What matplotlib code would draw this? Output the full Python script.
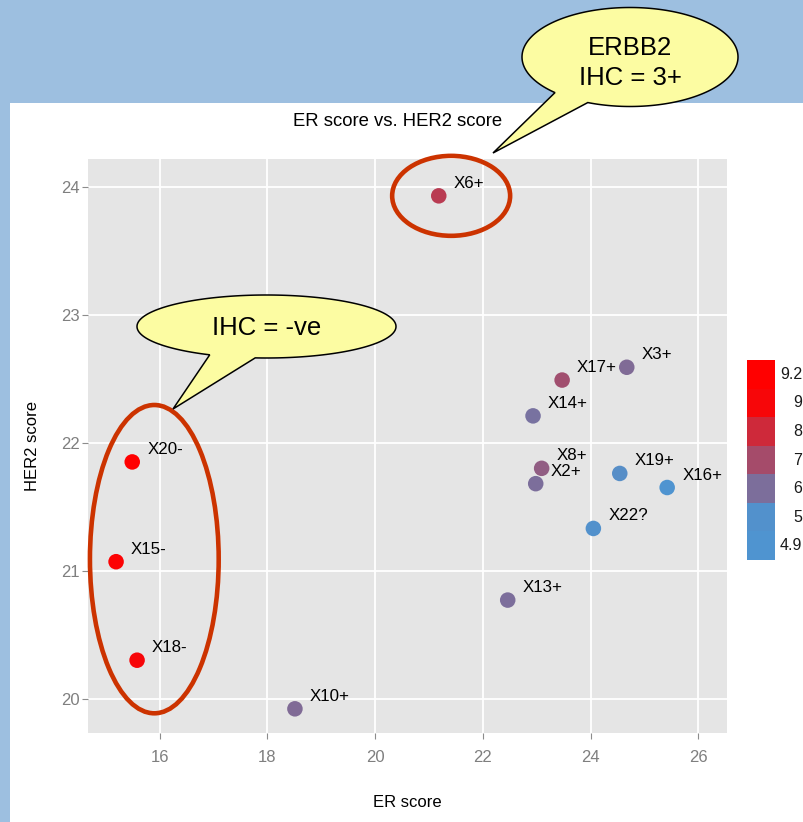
import numpy as np
import matplotlib
matplotlib.use("Agg")
import matplotlib.pyplot as plt
from matplotlib.colors import LinearSegmentedColormap, Normalize
from matplotlib.patches import Ellipse, Polygon, Rectangle

# ---- data ---------------------------------------------------------------
samples = ["X6+", "X3+", "X17+", "X14+", "X8+", "X2+", "X19+", "X16+",
           "X22?", "X13+", "X10+", "X20-", "X15-", "X18-"]
er_score = [21.18, 24.67, 23.47, 22.93, 23.09, 22.98, 24.54, 25.42,
            24.05, 22.46, 18.51, 15.49, 15.19, 15.58]
her2_score = [23.93, 22.59, 22.49, 22.21, 21.80, 21.68, 21.76, 21.65,
              21.33, 20.77, 19.92, 21.85, 21.07, 20.30]
erbb2_level = [7.5, 6.1, 6.9, 5.9, 6.5, 6.0, 5.1, 4.9,
               5.0, 6.0, 6.1, 9.2, 9.1, 9.0]
legend_breaks = [9.2, 9, 8, 7, 6, 5, 4.9]
x_ticks = [16, 18, 20, 22, 24, 26]
y_ticks = [20, 21, 22, 23, 24]

FONT = ["Liberation Sans", "DejaVu Sans"]
plt.rcParams["font.family"] = FONT

W, H = 804, 822
fig = plt.figure(figsize=(W / 100, H / 100), dpi=100, facecolor="white")

def px_rect(x0, y0, x1, y1):
    """Figure-fraction rectangle from pixel corners (y measured from top)."""
    return [x0 / W, 1 - y1 / H, (x1 - x0) / W, (y1 - y0) / H]

# slide backdrop: blue header band and left strip
slide_blue = "#9dbfe0"
fig.patches.append(Rectangle((0, 1 - 103 / H), 1, 103 / H, transform=fig.transFigure,
                             fc=slide_blue, ec="none", zorder=0))
fig.patches.append(Rectangle((0, 0), 10 / W, 1, transform=fig.transFigure,
                             fc=slide_blue, ec="none", zorder=0))

cmap = LinearSegmentedColormap.from_list("blue_red", ["#4f94d0", "#ff0000"])
norm = Normalize(vmin=min(legend_breaks), vmax=max(legend_breaks))

# ---- scatter panel -----------------------------------------------------
ax = fig.add_axes(px_rect(88, 159, 726.7, 733))
ax.set_facecolor("#e5e5e5")
for s in ax.spines.values():
    s.set_visible(False)
ax.set_xlim(14.669, 26.525)
ax.set_ylim(19.731, 24.218)
ax.set_xticks(x_ticks)
ax.set_yticks(y_ticks)
ax.grid(True, color="white", lw=1.3)
ax.set_axisbelow(True)
ax.tick_params(axis="both", length=4.3, width=0.8, color="#8c8c8c",
               labelcolor="#7f7f7f", labelsize=12)
ax.tick_params(axis="y", pad=1.5)
ax.tick_params(axis="x", pad=8)

ax.scatter(er_score, her2_score, c=erbb2_level, cmap=cmap, norm=norm,
           s=125, linewidths=0, zorder=3)
for name, x, y in zip(samples, er_score, her2_score):
    ax.annotate(name, (x, y), xytext=(10.8, 9.0), textcoords="offset points",
                ha="left", va="center", fontsize=12.2, color="black", zorder=4)

# highlight rings
ring_color = "#cc3300"
ax.add_patch(Ellipse((21.41, 23.93), 2.19, 0.625, fill=False, ec=ring_color,
                     lw=3.3, clip_on=False, zorder=5))
ax.add_patch(Ellipse((15.90, 21.09), 2.39, 2.41, fill=False, ec=ring_color,
                     lw=3.3, clip_on=False, zorder=5))

fig.text(398 / W, 1 - 122 / H, "ER score vs. HER2 score", ha="center",
         va="center", fontsize=13.3, color="black")
fig.text(407 / W, 1 - 802 / H, "ER score", ha="center", va="center",
         fontsize=12, color="black")
fig.text(33 / W, 1 - 446 / H, "HER2 score", ha="center", va="center",
         rotation=90, fontsize=12, color="black")

# ---- colour key --------------------------------------------------------
key = fig.add_axes(px_rect(747, 360, 775, 560))
key.set_xlim(0, 1)
key.set_ylim(0, len(legend_breaks))
key.axis("off")
for i, v in enumerate(legend_breaks):
    row = len(legend_breaks) - 1 - i
    key.bar(0.5, 1, width=1, bottom=row, color=cmap(norm(v)), linewidth=0)
    key.annotate(f"{v:g}", (1, row + 0.5), xycoords="data",
                 xytext=(802.5 - 775, 0), textcoords="offset pixels",
                 ha="right", va="center", fontsize=11.5, color="#1a1a1a",
                 annotation_clip=False)

# ---- speech bubbles ------------------------------------------------------
over = fig.add_axes([0, 0, 1, 1], zorder=10)
over.set_xlim(0, W)
over.set_ylim(H, 0)
over.axis("off")
over.patch.set_alpha(0)

def bubble(cx, cy, a, b, th1, th2, tip, n=240):
    t = np.radians(np.linspace(th2, th1 + 360, n))
    pts = np.column_stack([cx + a * np.cos(t), cy + b * np.sin(t)])
    return np.vstack([pts, tip])

bubble_fill = "#fcfca2"
over.add_patch(Polygon(bubble(630, 57, 108, 49.5, 113, 134, (493, 153)),
                       closed=True, fc=bubble_fill, ec="black", lw=1.1,
                       joinstyle="miter"))
over.text(630, 63, "ERBB2\nIHC = 3+", ha="center", va="center",
          fontsize=18.5, linespacing=1.3, color="black")

over.add_patch(Polygon(bubble(266.5, 326.5, 129.5, 31.5, 95, 116, (173, 409)),
                       closed=True, fc=bubble_fill, ec="black", lw=1.1,
                       joinstyle="miter"))
over.text(267, 328, "IHC = -ve", ha="center", va="center",
          fontsize=18.5, color="black")

fig.savefig("out.png", dpi=100, facecolor=fig.get_facecolor())
